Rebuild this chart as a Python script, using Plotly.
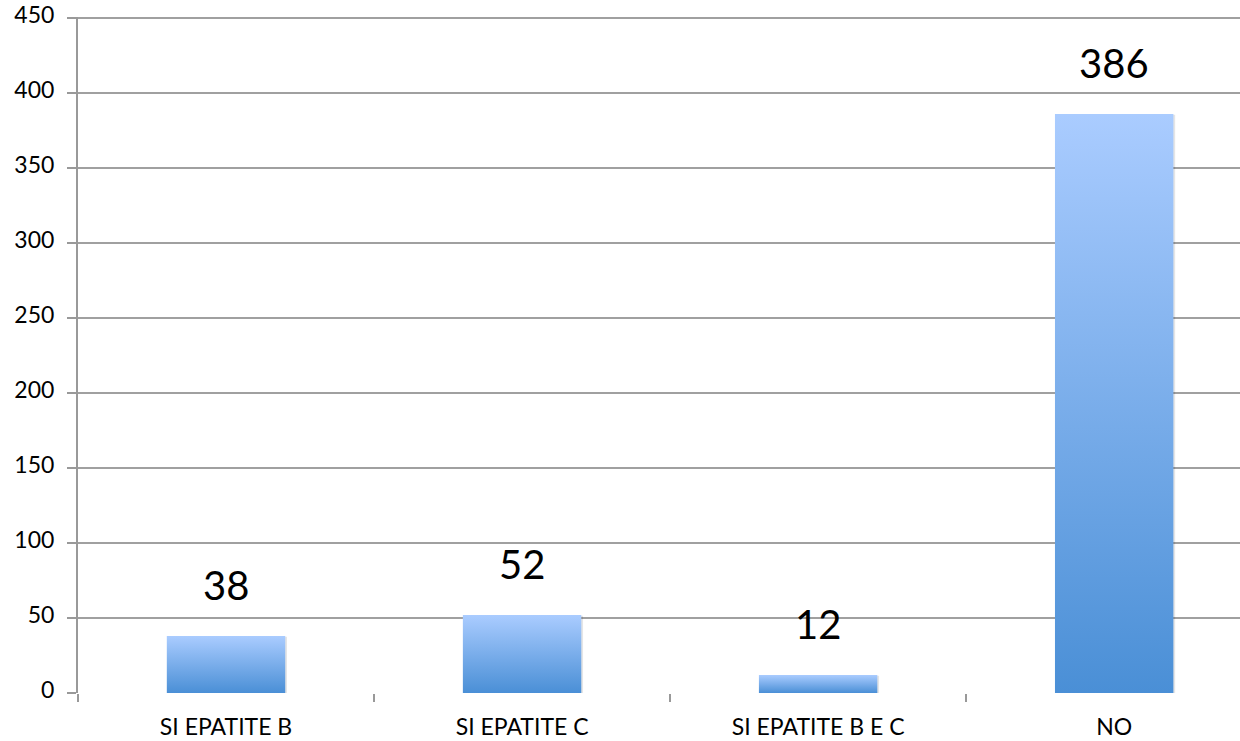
import plotly.graph_objects as go

categories = ["SI EPATITE B", "SI EPATITE C", "SI EPATITE B E C", "NO"]
values = [38, 52, 12, 386]
y_ticks = [0, 50, 100, 150, 200, 250, 300, 350, 400, 450]

BAR_HALF = 0.2
FONT = "Lato, 'Open Sans', sans-serif"

fig = go.Figure()

for i, v in enumerate(values):
    x0, x1 = i - BAR_HALF, i + BAR_HALF
    # soft shadow
    fig.add_trace(go.Scatter(
        x=[x0 + 0.004, x1 + 0.006, x1 + 0.006, x0 + 0.004, x0 + 0.004],
        y=[-1.0, -1.0, v - 0.5, v - 0.5, -1.0],
        fill="toself", mode="lines", line=dict(width=0),
        fillcolor="rgba(0,0,0,0.10)", hoverinfo="skip", showlegend=False,
    ))
    fig.add_trace(go.Scatter(
        x=[x0, x1, x1, x0, x0],
        y=[0, 0, v, v, 0],
        fill="toself", mode="lines", line=dict(width=0),
        fillgradient=dict(type="vertical",
                          colorscale=[[0, "#4A8FD6"], [1, "#AACCFF"]]),
        hoverinfo="skip", showlegend=False,
    ))
    fig.add_annotation(x=i, y=v, text=str(v), showarrow=False,
                       yanchor="bottom", yshift=25,
                       font=dict(size=40, color="#000000", family=FONT))

fig.update_layout(
    width=1240, height=741,
    margin=dict(l=78, r=0, t=17, b=48),
    paper_bgcolor="white", plot_bgcolor="white",
    showlegend=False,
    font=dict(family=FONT, color="#000000"),
    xaxis=dict(
        range=[-0.5, 3.425], tickmode="array", automargin=False,
        tickvals=list(range(len(categories))), ticktext=categories,
        ticks="", showgrid=False, zeroline=False, showline=False,
        tickfont=dict(size=23), ticklabelstandoff=18,
        minor=dict(tickmode="linear", tick0=-0.5, dtick=1, ticks="outside",
                   ticklen=8, tickwidth=2, tickcolor="#999999", showgrid=False),
    ),
    yaxis=dict(
        range=[0, 450.7], tickmode="array", tickvals=y_ticks, automargin=False,
        showgrid=True, gridcolor="#A0A0A0", gridwidth=2,
        zeroline=False, showline=True, linecolor="#999999", linewidth=2,
        ticks="outside", ticklen=9, tickwidth=2, tickcolor="#999999",
        tickfont=dict(size=23), ticklabelstandoff=8, ticklabelshift=-3,
        ticklabeloverflow="allow",
    ),
)

fig.write_html("out.html", config={"displayModeBar": False},
               post_script="document.body.style.margin='0';")
